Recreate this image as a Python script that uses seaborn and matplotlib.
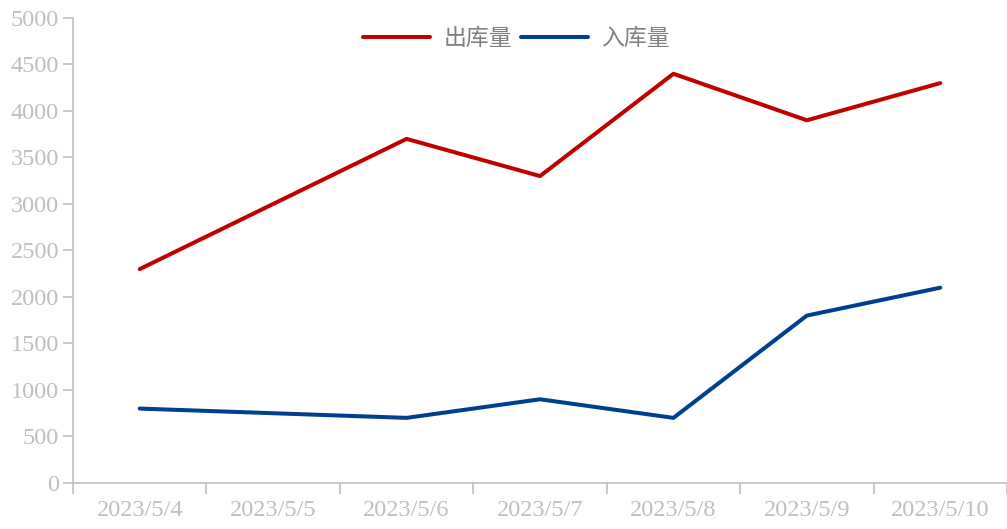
import numpy as np
import pandas as pd
import seaborn as sns
import matplotlib.pyplot as plt
from matplotlib.ticker import FixedLocator

# data (5/5 has no point, lines just connect across it)
dates = ['2023/5/4', '2023/5/5', '2023/5/6', '2023/5/7', '2023/5/8', '2023/5/9', '2023/5/10']
out_qty = [2300, np.nan, 3700, 3300, 4400, 3900, 4300]
in_qty = [800, np.nan, 700, 900, 700, 1800, 2100]
series_names = ['出库量', '入库量']
colors = ['#C00000', '#003F8F']

df = pd.DataFrame({'date': dates, series_names[0]: out_qty, series_names[1]: in_qty})
long_df = df.melt(id_vars='date', var_name='series', value_name='value').dropna()
long_df['x'] = long_df['date'].map({d: i for i, d in enumerate(dates)})

sns.set_style('white')
plt.rcParams['font.family'] = ['Liberation Serif', 'Noto Sans CJK SC', 'DejaVu Sans']

fig = plt.figure(figsize=(10.07, 5.29), dpi=100)
ax = fig.add_axes([0.0725, 0.087, 0.9275, 0.879])

sns.lineplot(data=long_df, x='x', y='value', hue='series', hue_order=series_names,
             palette=colors, linewidth=2.9, ax=ax, sort=True)

grey = '#BFBFBF'
ax.set_xlim(-0.5, len(dates) - 0.5)
ax.set_ylim(0, 5000)
ax.set_yticks(range(0, 5001, 500))
ax.set_xticks(range(len(dates)))
ax.set_xticklabels(dates)
ax.xaxis.set_minor_locator(FixedLocator(np.arange(-0.5, len(dates), 1.0)))
ax.set_xlabel('')
ax.set_ylabel('')

for side in ['top', 'right']:
    ax.spines[side].set_visible(False)
for side in ['left', 'bottom']:
    ax.spines[side].set_color(grey)
    ax.spines[side].set_linewidth(1.2)

ax.tick_params(axis='y', direction='out', length=7, width=1.2, color=grey,
               labelcolor=grey, labelsize=17.5, pad=3, left=True)
ax.tick_params(axis='x', which='major', length=0, labelcolor=grey, labelsize=17.5, pad=12)
ax.tick_params(axis='x', which='minor', direction='out', length=8, width=1.2, color=grey, bottom=True)

leg = ax.legend(loc='upper center', bbox_to_anchor=(0.475, 1.025), ncol=2, frameon=False,
                handlelength=2.9, columnspacing=0.4, handletextpad=0.6,
                prop={'family': ['Noto Sans CJK SC'], 'size': 16.5})
for t in leg.get_texts():
    t.set_color('#808080')

fig.savefig('out.png', dpi=100)
